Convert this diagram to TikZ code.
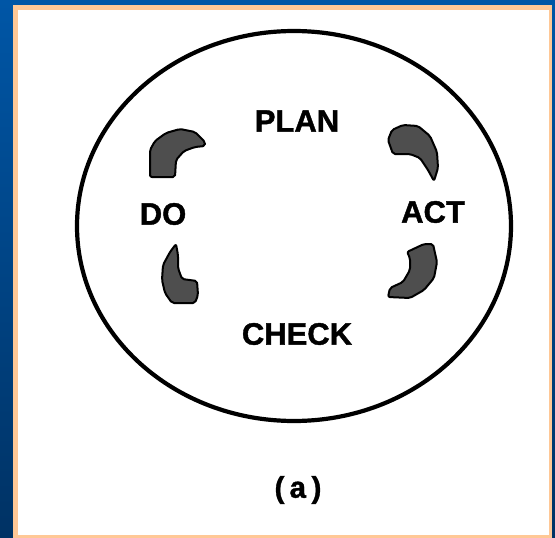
\documentclass[tikz,border=0pt]{standalone}
\usepackage{fontspec}
\usetikzlibrary{shapes.geometric}
\setmainfont{Liberation Sans}
\newfontfamily\heavyfnt[FakeBold=1.3]{Liberation Sans Bold}
\newfontfamily\monofnt[FakeBold=1.2]{Liberation Mono Bold}
\definecolor{frameblueA}{RGB}{0,86,166}
\definecolor{frameblueB}{RGB}{0,50,100}
\definecolor{peach}{RGB}{255,200,150}
\definecolor{arrowgray}{RGB}{78,78,78}
\tikzset{
  pdcatext/.style={inner sep=0pt, font=\heavyfnt\fontsize{31}{31}\selectfont},
  captext/.style={inner sep=0pt, font=\monofnt\fontsize{30}{30}\selectfont},
  cycarrow/.style={fill=arrowgray, draw=black, line width=2pt, line join=round, rounded corners=2pt},
  wheel/.style={draw=black, line width=4.2pt}
}
\begin{document}
\begin{tikzpicture}[x=1pt,y=-1pt]
\useasboundingbox (0,0) rectangle (555,538);
% frame
\shade[top color=frameblueA, bottom color=frameblueB] (0,0) rectangle (555,538);
\fill[peach] (13,5) rectangle (552,538);
\fill[white] (18,10) rectangle (549,535);
% wheel
\node[wheel, ellipse, minimum width=434pt, minimum height=390pt, inner sep=0pt] (wheelnode) at (294,226) {};
% labels
\node[pdcatext] (plan) at (297,121) {PLAN};
\node[pdcatext] (do) at (163,214) {DO};
\node[pdcatext] (act) at (433,212) {ACT};
\node[pdcatext] (check) at (297,334) {CHECK};
\node[captext] (cap) at (298,490) {(a)};
% arrows
\draw[cycarrow] (205,142) -- (195,132) -- (180,129) -- (166,133) -- (155,141) -- (150,150) -- (150,177) -- (175,177) -- (176,160) -- (184,151) -- (195,147) -- (205,146) -- cycle;
\draw[cycarrow] (176,244) -- (170,252) -- (163,265) -- (162,280) -- (165,293) -- (172,303) -- (195,303) -- (198,295) -- (197,281) -- (182,279) -- (178,268) -- (178,255) -- cycle;
\draw[cycarrow] (403,125) -- (418,126) -- (430,136) -- (437,152) -- (438,168) -- (434,181) -- (428,170) -- (420,158) -- (410,154) -- (393,154) -- (388,140) -- (392,130) -- cycle;
\draw[cycarrow] (424,244) -- (433,244) -- (437,262) -- (434,278) -- (424,290) -- (410,298) -- (388,297) -- (390,288) -- (403,282) -- (410,270) -- (410,258) -- (407,252) -- cycle;
\end{tikzpicture}
\end{document}
